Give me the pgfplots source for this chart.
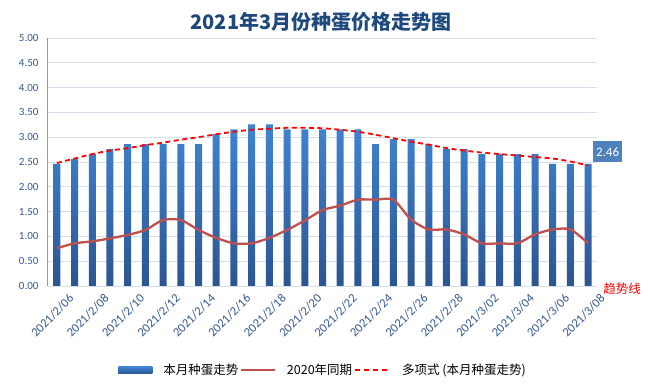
\documentclass[border=0pt]{standalone}
\usepackage{pgfplots}
\usepackage{pgfplotstable}
\pgfplotsset{compat=1.18}
\usepackage{fontspec}
\setmainfont{Carlito}
\newfontfamily\cjk{Noto Sans CJK SC}
\definecolor{barTop}{HTML}{3F84D2}
\definecolor{barBot}{HTML}{2C5591}
\definecolor{lineRed}{HTML}{C0504D}
\definecolor{gridc}{HTML}{D5DFEC}
\definecolor{tickc}{HTML}{34588F}
\definecolor{titlec}{HTML}{1F497D}
\definecolor{lblbox}{HTML}{4F81BD}
\pgfplotstableread{
k price y2020 trend
0  2.46 0.76 2.48
1  2.56 0.86 2.57
2  2.66 0.90 2.66
3  2.76 0.96 2.73
4  2.86 1.03 2.78
5  2.86 1.13 2.84
6  2.86 1.33 2.89
7  2.86 1.33 2.95
8  2.86 1.13 3.00
9  3.06 0.97 3.06
10 3.16 0.86 3.11
11 3.26 0.86 3.15
12 3.26 0.97 3.17
13 3.16 1.13 3.19
14 3.16 1.32 3.19
15 3.16 1.53 3.18
16 3.16 1.62 3.15
17 3.16 1.74 3.11
18 2.86 1.74 3.05
19 2.96 1.74 2.98
20 2.96 1.34 2.91
21 2.86 1.14 2.85
22 2.76 1.14 2.78
23 2.76 1.04 2.73
24 2.66 0.86 2.69
25 2.66 0.86 2.66
26 2.66 0.86 2.63
27 2.66 1.04 2.60
28 2.46 1.14 2.57
29 2.46 1.14 2.51
30 2.46 0.86 2.43
}\datatable
\begin{document}
\begin{tikzpicture}
\path[use as bounding box] (0pt,0pt) rectangle (650pt,390pt);
\node[font=\cjk\bfseries\fontsize{20}{24}\selectfont, text=titlec] at (321pt,368pt) {2021年3月份种蛋价格走势图};
\node[font=\cjk\fontsize{12.5}{15}\selectfont, text=red] at (622pt,101pt) {趋势线};
\begin{axis}[
  at={(48pt,104pt)}, anchor=south west,
  scale only axis, width=549pt, height=248pt,
  xmin=-0.5, xmax=30.5, ymin=0, ymax=5,
  ytick={0,0.5,1,1.5,2,2.5,3,3.5,4,4.5,5},
  xtick={0,2,...,30},
  xticklabels={2021/2/06,2021/2/08,2021/2/10,2021/2/12,2021/2/14,2021/2/16,2021/2/18,2021/2/20,2021/2/22,2021/2/24,2021/2/26,2021/2/28,2021/3/02,2021/3/04,2021/3/06,2021/3/08},
  major tick length=0pt,
  ymajorgrids, grid style={draw=gridc, line width=0.8pt},
  axis x line*=bottom, axis y line*=left,
  x axis line style={draw=gridc, line width=0.8pt, -},
  y axis line style={draw=gray!80, line width=1pt, -},
  yticklabel style={font=\fontsize{11}{13}\selectfont, text=tickc, anchor=east, xshift=-6pt,
    /pgf/number format/.cd, fixed, fixed zerofill, precision=2, assume math mode=true},
  xticklabel style={font=\fontsize{12.5}{14}\selectfont, text=tickc, rotate=45, anchor=north east, inner sep=1pt, yshift=-12pt, xshift=4pt},
  legend columns=3,
  legend style={at={(0.501,-0.339)}, anchor=center, draw=none, fill=none,
    font=\cjk\fontsize{12.5}{15}\selectfont, inner sep=0pt,
    /tikz/every odd column/.append style={column sep=9pt}},
  clip=false,
]
\addplot[ybar, bar width=7pt, draw=none, top color=barTop, bottom color=barBot,
  legend image code/.code={\fill[color=barTop!75!barBot] (0pt,-3.5pt) rectangle (34pt,3.5pt);}]
  table[x=k, y=price] {\datatable};
\addlegendentry{本月种蛋走势}
\addplot[lineRed, line width=2.3pt, smooth, tension=0.45, no markers,
  legend image code/.code={\draw[lineRed, line width=1.6pt] (0pt,0pt) -- (34pt,0pt);}]
  table[x=k, y=y2020] {\datatable};
\addlegendentry{2020年同期}
\addplot[red, line width=1.8pt, dash pattern=on 5pt off 3.5pt, smooth, no markers,
  legend image code/.code={\draw[red, line width=1.8pt, dash pattern=on 5pt off 4pt] (0pt,0pt) -- (35pt,0pt);}]
  table[x=k, y=trend] {\datatable};
\addlegendentry{多项式 (本月种蛋走势)}
\node[fill=lblbox, text=white, font=\fontsize{13}{15}\selectfont, inner sep=3pt, minimum height=21pt] at (axis cs:30,2.46) [xshift=19.5pt, yshift=12pt] {2.46};
\end{axis}
\end{tikzpicture}
\end{document}
